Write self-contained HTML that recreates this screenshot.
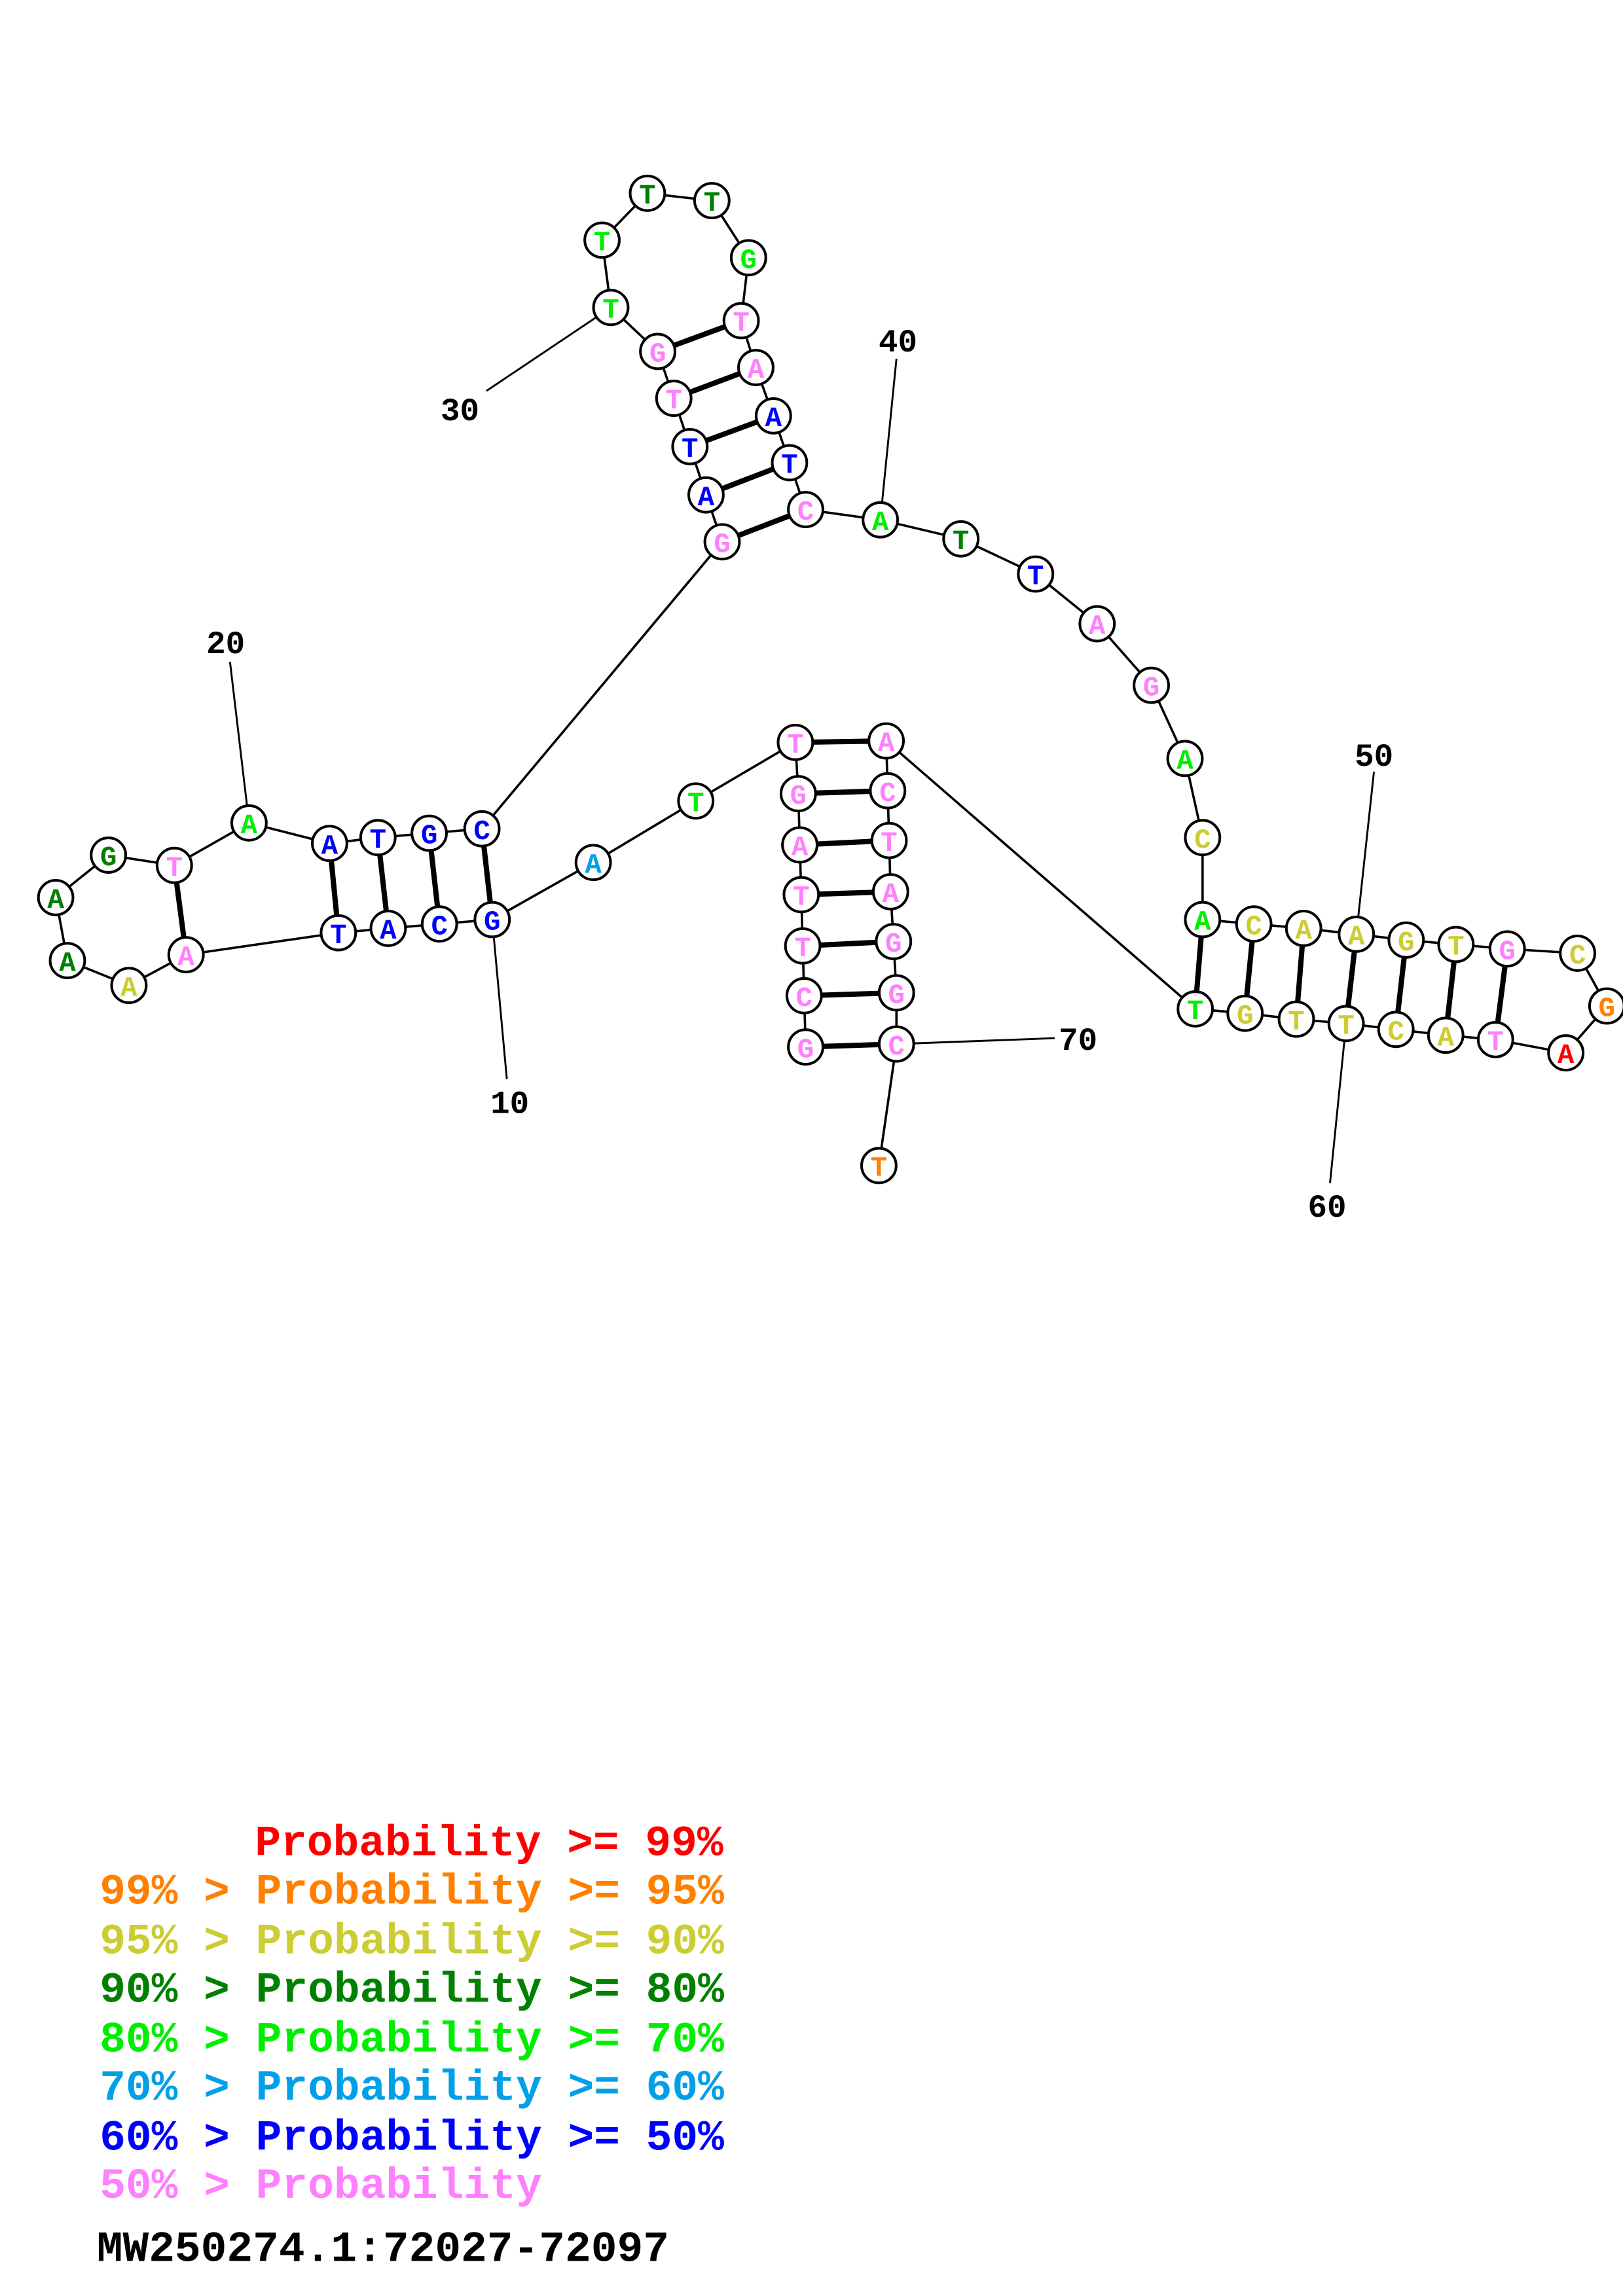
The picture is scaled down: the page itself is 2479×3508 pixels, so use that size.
<!DOCTYPE html>
<html><head><meta charset="utf-8"><style>html,body{margin:0;padding:0;background:#fff}svg{display:block}</style></head><body>
<svg xmlns="http://www.w3.org/2000/svg" width="2479" height="3508" viewBox="0 0 1108 1568">
<rect width="1108" height="1568" fill="#fff"/>
<polyline fill="none" stroke="#000" stroke-width="1.6" points="550,715 549,680 548,646 547,611 546,577 545,542 543,507 475,547 405,589 336,628 300,631 265,634 231,637 127,652 88,673 46,656 38,613 74,584 119,591 170,562 225,576 258,572 293,569 329,566 493,370 482,338 471,305 460,272 449,240 417,210 411,164 442,132 486,137 511,176 506,219 516,251 528,284 539,316 550,348 601,355 656,368 707,392 749,426 786,468 809,518 821,572 821,628 856,631 890,634 926,638 960,642 994,645 1029,648 1077,651 1097,687 1069,719 1021,710 987,707 953,703 919,699 885,696 850,692 816,689 605,506 606,540 607,574 608,609 610,643 612,678 612,713 600,796"/>
<g stroke="#000" stroke-width="3.6">
<line x1="543" y1="507" x2="605" y2="506"/><line x1="545" y1="542" x2="606" y2="540"/><line x1="546" y1="577" x2="607" y2="574"/><line x1="547" y1="611" x2="608" y2="609"/><line x1="548" y1="646" x2="610" y2="643"/><line x1="549" y1="680" x2="612" y2="678"/><line x1="550" y1="715" x2="612" y2="713"/>
<line x1="336" y1="628" x2="329" y2="566"/><line x1="300" y1="631" x2="293" y2="569"/><line x1="265" y1="634" x2="258" y2="572"/><line x1="231" y1="637" x2="225" y2="576"/><line x1="127" y1="652" x2="119" y2="591"/>
<line x1="493" y1="370" x2="550" y2="348"/><line x1="482" y1="338" x2="539" y2="316"/><line x1="471" y1="305" x2="528" y2="284"/><line x1="460" y1="272" x2="516" y2="251"/><line x1="449" y1="240" x2="506" y2="219"/>
<line x1="821" y1="628" x2="816" y2="689"/><line x1="856" y1="631" x2="850" y2="692"/><line x1="890" y1="634" x2="885" y2="696"/><line x1="926" y1="638" x2="919" y2="699"/><line x1="960" y1="642" x2="953" y2="703"/><line x1="994" y1="645" x2="987" y2="707"/><line x1="1029" y1="648" x2="1021" y2="710"/>
</g>
<g stroke="#000" stroke-width="1.3">
<line x1="336" y1="628" x2="346" y2="737"/><line x1="170" y1="562" x2="157" y2="452"/><line x1="417" y1="210" x2="332" y2="267"/><line x1="601" y1="355" x2="612" y2="245"/><line x1="926" y1="638" x2="938" y2="527"/><line x1="919" y1="699" x2="908" y2="808"/><line x1="612" y1="713" x2="720" y2="709"/>
</g>
<g font-family="Liberation Mono, monospace" font-weight="bold" font-size="22" text-anchor="middle">
<text x="348" y="760">10</text><text x="154" y="446">20</text><text x="314" y="287">30</text><text x="613" y="240">40</text><text x="938" y="523">50</text><text x="906" y="831">60</text><text x="736" y="717">70</text>
</g>
<g fill="#fff" stroke="#000" stroke-width="1.8">
<circle cx="550" cy="715" r="11.8"/><circle cx="549" cy="680" r="11.8"/><circle cx="548" cy="646" r="11.8"/><circle cx="547" cy="611" r="11.8"/><circle cx="546" cy="577" r="11.8"/><circle cx="545" cy="542" r="11.8"/><circle cx="543" cy="507" r="11.8"/><circle cx="475" cy="547" r="11.8"/><circle cx="405" cy="589" r="11.8"/><circle cx="336" cy="628" r="11.8"/><circle cx="300" cy="631" r="11.8"/><circle cx="265" cy="634" r="11.8"/><circle cx="231" cy="637" r="11.8"/><circle cx="127" cy="652" r="11.8"/><circle cx="88" cy="673" r="11.8"/><circle cx="46" cy="656" r="11.8"/><circle cx="38" cy="613" r="11.8"/><circle cx="74" cy="584" r="11.8"/><circle cx="119" cy="591" r="11.8"/><circle cx="170" cy="562" r="11.8"/><circle cx="225" cy="576" r="11.8"/><circle cx="258" cy="572" r="11.8"/><circle cx="293" cy="569" r="11.8"/><circle cx="329" cy="566" r="11.8"/><circle cx="493" cy="370" r="11.8"/><circle cx="482" cy="338" r="11.8"/><circle cx="471" cy="305" r="11.8"/><circle cx="460" cy="272" r="11.8"/><circle cx="449" cy="240" r="11.8"/><circle cx="417" cy="210" r="11.8"/><circle cx="411" cy="164" r="11.8"/><circle cx="442" cy="132" r="11.8"/><circle cx="486" cy="137" r="11.8"/><circle cx="511" cy="176" r="11.8"/><circle cx="506" cy="219" r="11.8"/><circle cx="516" cy="251" r="11.8"/><circle cx="528" cy="284" r="11.8"/><circle cx="539" cy="316" r="11.8"/><circle cx="550" cy="348" r="11.8"/><circle cx="601" cy="355" r="11.8"/><circle cx="656" cy="368" r="11.8"/><circle cx="707" cy="392" r="11.8"/><circle cx="749" cy="426" r="11.8"/><circle cx="786" cy="468" r="11.8"/><circle cx="809" cy="518" r="11.8"/><circle cx="821" cy="572" r="11.8"/><circle cx="821" cy="628" r="11.8"/><circle cx="856" cy="631" r="11.8"/><circle cx="890" cy="634" r="11.8"/><circle cx="926" cy="638" r="11.8"/><circle cx="960" cy="642" r="11.8"/><circle cx="994" cy="645" r="11.8"/><circle cx="1029" cy="648" r="11.8"/><circle cx="1077" cy="651" r="11.8"/><circle cx="1097" cy="687" r="11.8"/><circle cx="1069" cy="719" r="11.8"/><circle cx="1021" cy="710" r="11.8"/><circle cx="987" cy="707" r="11.8"/><circle cx="953" cy="703" r="11.8"/><circle cx="919" cy="699" r="11.8"/><circle cx="885" cy="696" r="11.8"/><circle cx="850" cy="692" r="11.8"/><circle cx="816" cy="689" r="11.8"/><circle cx="605" cy="506" r="11.8"/><circle cx="606" cy="540" r="11.8"/><circle cx="607" cy="574" r="11.8"/><circle cx="608" cy="609" r="11.8"/><circle cx="610" cy="643" r="11.8"/><circle cx="612" cy="678" r="11.8"/><circle cx="612" cy="713" r="11.8"/><circle cx="600" cy="796" r="11.8"/>
</g>
<g font-family="Liberation Mono, monospace" font-weight="bold" font-size="19" text-anchor="middle" transform="translate(0,1)">
<text x="550" y="721" fill="#ff80ff">G</text><text x="549" y="686" fill="#ff80ff">C</text><text x="548" y="652" fill="#ff80ff">T</text><text x="547" y="617" fill="#ff80ff">T</text><text x="546" y="583" fill="#ff80ff">A</text><text x="545" y="548" fill="#ff80ff">G</text><text x="543" y="513" fill="#ff80ff">T</text>
<text x="475" y="553" fill="#00ee00">T</text><text x="405" y="595" fill="#00a0e8">A</text><text x="336" y="634" fill="#0000ff">G</text><text x="300" y="637" fill="#0000ff">C</text><text x="265" y="640" fill="#0000ff">A</text><text x="231" y="643" fill="#0000ff">T</text><text x="127" y="658" fill="#ff80ff">A</text>
<text x="88" y="679" fill="#cccc33">A</text><text x="46" y="662" fill="#008000">A</text><text x="38" y="619" fill="#008000">A</text><text x="74" y="590" fill="#008000">G</text><text x="119" y="597" fill="#ff80ff">T</text><text x="170" y="568" fill="#00ee00">A</text><text x="225" y="582" fill="#0000ff">A</text>
<text x="258" y="578" fill="#0000ff">T</text><text x="293" y="575" fill="#0000ff">G</text><text x="329" y="572" fill="#0000ff">C</text><text x="493" y="376" fill="#ff80ff">G</text><text x="482" y="344" fill="#0000ff">A</text><text x="471" y="311" fill="#0000ff">T</text><text x="460" y="278" fill="#ff80ff">T</text>
<text x="449" y="246" fill="#ff80ff">G</text><text x="417" y="216" fill="#00ee00">T</text><text x="411" y="170" fill="#00ee00">T</text><text x="442" y="138" fill="#008000">T</text><text x="486" y="143" fill="#008000">T</text><text x="511" y="182" fill="#00ee00">G</text><text x="506" y="225" fill="#ff80ff">T</text>
<text x="516" y="257" fill="#ff80ff">A</text><text x="528" y="290" fill="#0000ff">A</text><text x="539" y="322" fill="#0000ff">T</text><text x="550" y="354" fill="#ff80ff">C</text><text x="601" y="361" fill="#00ee00">A</text><text x="656" y="374" fill="#008000">T</text><text x="707" y="398" fill="#0000ff">T</text>
<text x="749" y="432" fill="#ff80ff">A</text><text x="786" y="474" fill="#ff80ff">G</text><text x="809" y="524" fill="#00ee00">A</text><text x="821" y="578" fill="#cccc33">C</text><text x="821" y="634" fill="#00ee00">A</text><text x="856" y="637" fill="#cccc33">C</text><text x="890" y="640" fill="#cccc33">A</text>
<text x="926" y="644" fill="#cccc33">A</text><text x="960" y="648" fill="#cccc33">G</text><text x="994" y="651" fill="#cccc33">T</text><text x="1029" y="654" fill="#ff80ff">G</text><text x="1077" y="657" fill="#cccc33">C</text><text x="1097" y="693" fill="#ff8000">G</text><text x="1069" y="725" fill="#ff0000">A</text>
<text x="1021" y="716" fill="#ff80ff">T</text><text x="987" y="713" fill="#cccc33">A</text><text x="953" y="709" fill="#cccc33">C</text><text x="919" y="705" fill="#cccc33">T</text><text x="885" y="702" fill="#cccc33">T</text><text x="850" y="698" fill="#cccc33">G</text><text x="816" y="695" fill="#00ee00">T</text>
<text x="605" y="512" fill="#ff80ff">A</text><text x="606" y="546" fill="#ff80ff">C</text><text x="607" y="580" fill="#ff80ff">T</text><text x="608" y="615" fill="#ff80ff">A</text><text x="610" y="649" fill="#ff80ff">G</text><text x="612" y="684" fill="#ff80ff">G</text><text x="612" y="719" fill="#ff80ff">C</text><text x="600" y="802" fill="#ff8000">T</text>
</g>
<g font-family="Liberation Mono, monospace" font-weight="bold" font-size="29.6" xml:space="preserve">
<text x="174" y="1267" fill="#ff0000">Probability &gt;= 99%</text>
<text x="68" y="1300" fill="#ff8000">99% &gt; Probability &gt;= 95%</text>
<text x="68" y="1334" fill="#cccc33">95% &gt; Probability &gt;= 90%</text>
<text x="68" y="1367" fill="#008000">90% &gt; Probability &gt;= 80%</text>
<text x="68" y="1401" fill="#00ee00">80% &gt; Probability &gt;= 70%</text>
<text x="68" y="1434" fill="#00a0e8">70% &gt; Probability &gt;= 60%</text>
<text x="68" y="1468" fill="#0000ff">60% &gt; Probability &gt;= 50%</text>
<text x="68" y="1501" fill="#ff80ff">50% &gt; Probability</text>
<text x="66" y="1544" fill="#000">MW250274.1:72027-72097</text>
</g>
</svg>
</body></html>
